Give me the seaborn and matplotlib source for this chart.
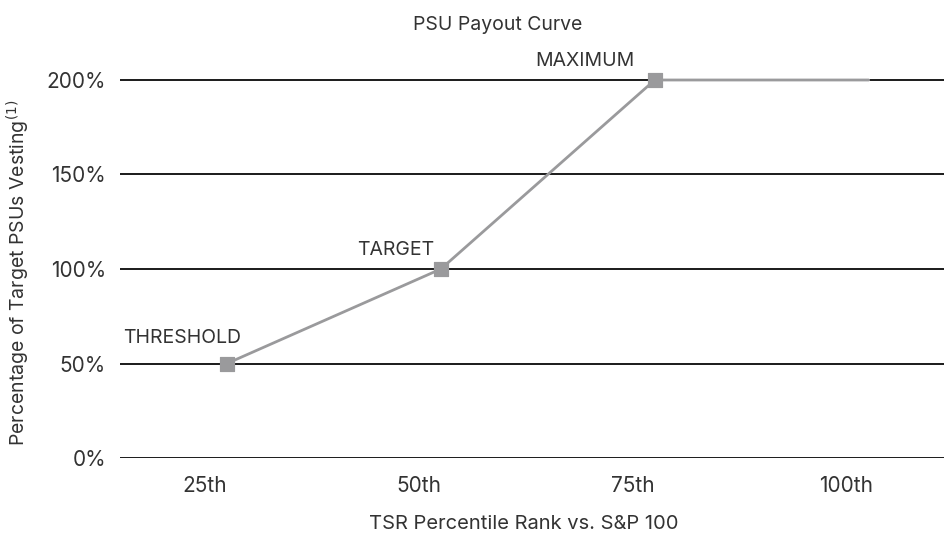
import matplotlib
matplotlib.use("Agg")
import matplotlib.pyplot as plt
import pandas as pd
import seaborn as sns

# payout curve values
percentile = [25, 50, 75, 100]
payout = [50, 100, 200, 200]
point_labels = ["THRESHOLD", "TARGET", "MAXIMUM", ""]
tick_labels = ["25th", "50th", "75th", "100th"]
y_ticks = [0, 50, 100, 150, 200]

df = pd.DataFrame({"percentile": percentile, "payout": payout, "label": point_labels})

sns.set_style("white")
plt.rcParams["font.family"] = ["Inter", "DejaVu Sans"]

text_color = "#333333"
line_color = "#9a9a9c"

fig = plt.figure(figsize=(9.44, 5.38), dpi=100)
# axes spans 0% (y=458 px) up to y=60 px
bottom_px, top_px = 458, 60
ax = fig.add_axes([120 / 944, (538 - bottom_px) / 538, 824 / 944, (bottom_px - top_px) / 538])

for y in y_ticks:
    ax.axhline(y, color="#1a1a1a", lw=1.4, zorder=1)

sns.lineplot(data=df, x="percentile", y="payout", color=line_color, lw=2, ax=ax, zorder=3)
sns.scatterplot(data=df[df["label"] != ""], x="percentile", y="payout", marker="s",
                s=115, color=line_color, edgecolor=line_color, ax=ax, zorder=4)

offsets = {"THRESHOLD": (-32.5, 18.5), "TARGET": (-32.5, 13.5), "MAXIMUM": (-50.5, 14)}
for _, row in df.iterrows():
    if row["label"]:
        ax.annotate(row["label"], (row["percentile"], row["payout"]),
                    xytext=offsets[row["label"]], textcoords="offset points",
                    ha="center", va="center", fontsize=14, color=text_color)

ax.set_xlim(12.5, 108.8)
ax.set_ylim(0, 200 * (bottom_px - top_px) / (bottom_px - 80))
ax.set_xticks([p - 2.6 for p in percentile])
ax.set_xticklabels(tick_labels)
ax.set_yticks(y_ticks)
ax.set_yticklabels([f"{v}%" for v in y_ticks])
ax.tick_params(axis="both", length=0, labelsize=15, labelcolor=text_color)
ax.tick_params(axis="x", pad=13)
ax.tick_params(axis="y", pad=10)
sns.despine(ax=ax, left=True, bottom=True, right=True, top=True)
ax.set_xlabel("")
ax.set_ylabel("")

fig.text(498 / 944, 1 - 25 / 538, "PSU Payout Curve", ha="center", va="center",
         fontsize=14, color=text_color)
fig.text(524 / 944, 1 - 524 / 538, "TSR Percentile Rank vs. S&P 100", ha="center",
         va="center", fontsize=14.5, color=text_color)
fig.text(18 / 944, 1 - 273 / 538, "Percentage of Target PSUs Vesting$^{(1)}$",
         rotation=90, ha="center", va="center", fontsize=14, color=text_color)

fig.savefig("out.png", dpi=100)
